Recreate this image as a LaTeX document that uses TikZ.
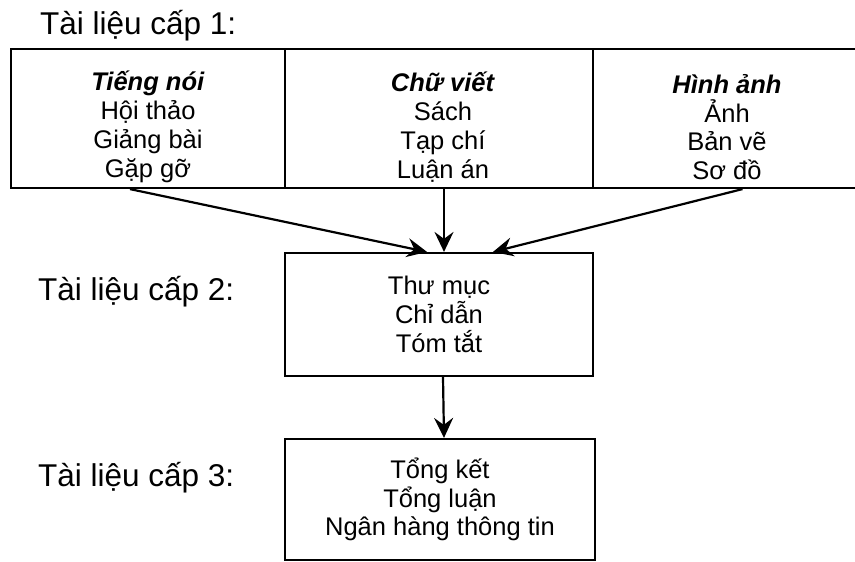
\documentclass[tikz,border=0pt]{standalone}
\usepackage{fontspec}
\setmainfont{Liberation Sans}
\usetikzlibrary{arrows.meta,calc}

\begin{document}
\begin{tikzpicture}[
    x=1pt, y=-1pt,
    line width=2.2pt,
    box/.style={draw, inner sep=0pt, align=center,
        font=\fontsize{25.5}{28.8}\selectfont},
    txt/.style={inner sep=0pt, align=center,
        font=\fontsize{25.5}{28.8}\selectfont},
    level/.style={anchor=west, inner sep=0pt,
        font=\fontsize{31.5}{34}\selectfont},
    arr/.style={-{Stealth[length=20pt,width=19pt,inset=7pt]}}
]
    \useasboundingbox (0,0) rectangle (855,562);
    \clip (0,0) rectangle (855,562);

    \node[level] (lv1) at (39,26) {Tài liệu cấp 1:};
    \node[level] (lv2) at (37,292) {Tài liệu cấp 2:};
    \node[level] (lv3) at (37,478) {Tài liệu cấp 3:};

    % cap 1
    \node[box, minimum width=274pt, minimum height=139pt] (c1) at (148,118.5) {};
    \node[box, minimum width=308pt, minimum height=139pt] (c2) at (439,118.5) {};
    \node[box, minimum width=279pt, minimum height=139pt] (c3) at (732.5,118.5) {};
    \node[txt] (t1) at (148,127) {\textbf{\textit{Tiếng nói}}\\Hội thảo\\Giảng bài\\Gặp gỡ};
    \node[txt] (t2) at (443,127) {\textbf{\textit{Chữ viết}}\\Sách\\Tạp chí\\Luận án};
    \node[txt] (t3) at (727,127) {\textbf{\textit{Hình ảnh}}\\Ảnh\\Bản vẽ\\Sơ đồ};

    % cap 2, cap 3
    \node[box, minimum width=308pt, minimum height=123pt] (b2) at (439,314.5)
        {Thư mục\\Chỉ dẫn\\Tóm tắt};
    \node[box, minimum width=310pt, minimum height=121pt] (b3) at (440,499.5)
        {Tổng kết\\Tổng luận\\Ngân hàng thông tin};

    \draw[arr] ($(c1.south)+(-18,0)$) -- ($(b2.north)+(-12,0)$);
    \draw[arr] ($(c2.south)+(5,0)$) -- ($(b2.north)+(5,0)$);
    \draw[arr] ($(c3.south)+(10,0)$) -- ($(b2.north)+(54,0)$);
    \draw[arr] ($(b2.south)+(4,0)$) -- ($(b3.north)+(4,0)$);
\end{tikzpicture}
\end{document}
